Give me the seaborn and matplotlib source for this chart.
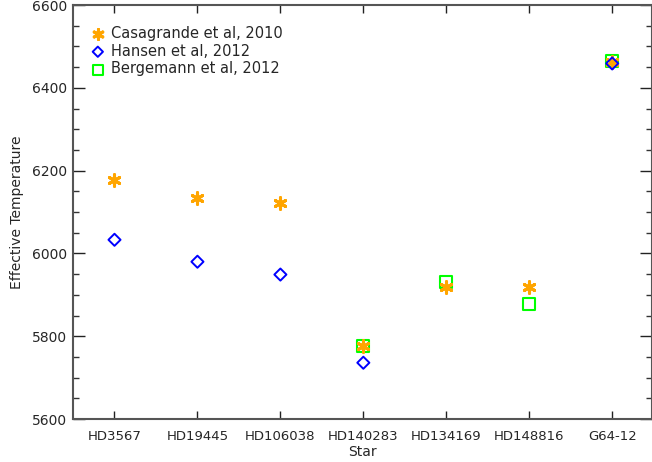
"""
Effective temperature of benchmark stars from three literature sources.
"""

import numpy as np
import pandas as pd
import matplotlib
matplotlib.use("Agg")
import matplotlib.pyplot as plt
from matplotlib.ticker import MultipleLocator
import seaborn as sns

stars = ['HD3567', 'HD19445', 'HD106038', 'HD140283', 'HD134169', 'HD148816', 'G64-12']
casagrande = [6178, 6135, 6121, 5777, 5920, 5920, 6462]
hansen = [6033, 5980, 5949, 5736, np.nan, np.nan, 6459]
bergemann = [np.nan, np.nan, np.nan, 5777, 5930, 5878, 6464]


def build_frame():
    df = pd.DataFrame({
        'star': stars,
        'pos': np.arange(1, len(stars) + 1),
        'Casagrande et al, 2010': casagrande,
        'Hansen et al, 2012': hansen,
        'Bergemann et al, 2012': bergemann,
    })
    return df


def plot_temperatures(df, output_file):
    sns.set_style('ticks')
    plt.rcParams['font.family'] = ['DejaVu Sans']

    fig = plt.figure(figsize=(6.52, 4.62), dpi=100)
    ax = fig.add_axes([0.112, 0.093, 0.888, 0.896])

    # casagrande: asterisk, hansen: open diamond, bergemann: open square
    sns.scatterplot(data=df, x='pos', y='Casagrande et al, 2010', ax=ax,
                    marker=(6, 2, 0), s=70, color='#FFA500', linewidth=2.2,
                    label='Casagrande et al, 2010', zorder=3)
    sns.scatterplot(data=df, x='pos', y='Hansen et al, 2012', ax=ax,
                    marker='D', s=38, facecolor='none', edgecolor='#0000FF',
                    linewidth=1.4, label='Hansen et al, 2012', zorder=4)
    sns.scatterplot(data=df, x='pos', y='Bergemann et al, 2012', ax=ax,
                    marker='s', s=75, facecolor='none', edgecolor='#00FF00',
                    linewidth=1.5, label='Bergemann et al, 2012', zorder=2)

    ax.set_xlim(0.5, 7.48)
    ax.set_ylim(5600, 6600)
    ax.set_xticks(df['pos'])
    ax.set_xticklabels(df['star'])
    ax.yaxis.set_major_locator(MultipleLocator(200))
    ax.yaxis.set_minor_locator(MultipleLocator(50))

    ax.tick_params(axis='both', direction='in', top=True, right=True,
                   labelsize=10, color='#222222', width=1)
    ax.tick_params(axis='x', labelsize=9.5)
    ax.tick_params(axis='y', which='major', length=8.6, pad=4)
    ax.tick_params(axis='y', which='minor', length=4.3, direction='in',
                   right=True, width=1, color='#333333')
    ax.tick_params(axis='x', which='major', length=5.8, pad=8)
    for side in ax.spines.values():
        side.set_linewidth(1.5)
        side.set_color('#555555')

    ax.set_xlabel('Star', fontsize=10, labelpad=1)
    ax.set_ylabel('Effective Temperature', fontsize=10, labelpad=6)

    ax.legend(loc='upper left', bbox_to_anchor=(0.0, 0.982), frameon=False,
              fontsize=10.5, handletextpad=0.1, borderaxespad=0.5,
              labelspacing=0.2, handlelength=1.6, markerscale=0.85)

    fig.savefig(output_file, dpi=100)


def main():
    df = build_frame()
    plot_temperatures(df, 'out.png')


if __name__ == "__main__":
    main()
